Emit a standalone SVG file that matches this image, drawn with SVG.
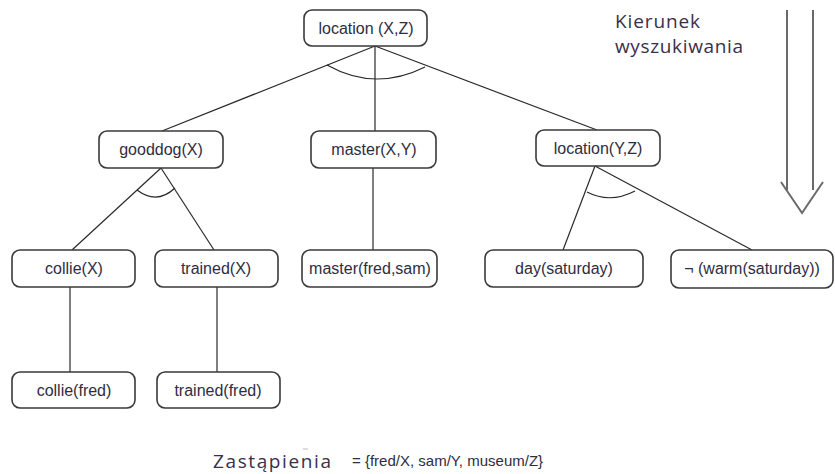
<svg xmlns="http://www.w3.org/2000/svg" width="835" height="474" viewBox="0 0 835 474">
<style>
.box{fill:#fff;stroke:#3a3a3a;stroke-width:1.6}
.lbl{font-family:"Liberation Sans",Arial,sans-serif;font-size:16px;fill:#2e2d3f;text-anchor:middle}
.edge{stroke:#2a2a2a;stroke-width:1.2;fill:none}
.side{font-family:"Open Sans","DejaVu Sans",sans-serif;font-size:19px;fill:#3a2f4a}
.arrow{stroke:#6a6a6a;stroke-width:2;fill:none}
</style>
<rect width="835" height="474" fill="#fff"/>
<g id="connectors">
<line class="edge" x1="375" y1="46" x2="162" y2="131"/>
<line class="edge" x1="375" y1="46" x2="375" y2="131"/>
<line class="edge" x1="375" y1="46" x2="597" y2="130"/>
<path class="edge" d="M327,65 Q375,92 425,67"/>
<line class="edge" x1="161" y1="168" x2="72" y2="250"/>
<line class="edge" x1="161" y1="168" x2="214" y2="250"/>
<path class="edge" d="M137,190 Q157,205 175,188"/>
<line class="edge" x1="373" y1="168" x2="373" y2="250"/>
<line class="edge" x1="595" y1="166" x2="563" y2="250"/>
<line class="edge" x1="595" y1="166" x2="752" y2="250"/>
<path class="edge" d="M587,192 Q610,204 635,191"/>
<line class="edge" x1="70" y1="287" x2="70" y2="372"/>
<line class="edge" x1="217" y1="287" x2="217" y2="372"/>
</g>
<g id="n-root"><rect class="box" x="304" y="10" width="123" height="36" rx="8"/><text class="lbl" x="366" y="34">location (X,Z)</text></g>
<g id="n-gooddog"><rect class="box" x="99" y="131" width="124" height="37" rx="8"/><text class="lbl" x="161" y="155">gooddog(X)</text></g>
<g id="n-master"><rect class="box" x="311" y="131" width="125" height="37" rx="8"/><text class="lbl" x="374" y="155">master(X,Y)</text></g>
<g id="n-locationYZ"><rect class="box" x="536" y="130" width="124" height="36" rx="8"/><text class="lbl" x="598" y="154">location(Y,Z)</text></g>
<g id="n-collieX"><rect class="box" x="12" y="250" width="123" height="37" rx="8"/><text class="lbl" x="74" y="274">collie(X)</text></g>
<g id="n-trainedX"><rect class="box" x="155" y="250" width="123" height="37" rx="8"/><text class="lbl" x="216" y="274">trained(X)</text></g>
<g id="n-masterfs"><rect class="box" x="302" y="250" width="135" height="37" rx="8"/><text class="lbl" x="370" y="274">master(fred,sam)</text></g>
<g id="n-day"><rect class="box" x="485" y="250" width="158" height="37" rx="8"/><text class="lbl" x="564" y="274">day(saturday)</text></g>
<g id="n-warm"><rect class="box" x="671" y="250" width="162" height="38" rx="8"/><text class="lbl" x="752" y="274">¬ (warm(saturday))</text></g>
<g id="n-colliefred"><rect class="box" x="12" y="372" width="123" height="36" rx="8"/><text class="lbl" x="74" y="396">collie(fred)</text></g>
<g id="n-trainedfred"><rect class="box" x="157" y="372" width="123" height="36" rx="8"/><text class="lbl" x="218" y="396">trained(fred)</text></g>
<g id="direction">
<line class="arrow" x1="787" y1="10" x2="787" y2="190"/>
<line class="arrow" x1="813" y1="10" x2="813" y2="190"/>
<polyline class="arrow" points="781,182 802,213 823,182"/>
<text class="side" x="615" y="28" textLength="85">Kierunek</text>
<text class="side" x="615" y="53" textLength="128">wyszukiwania</text>
</g>
<g id="substitutions">
<text class="side" font-size="18" x="213" y="468" textLength="118">Zastąpienia</text>
<line x1="303" y1="449" x2="308" y2="449" stroke="#bbb" stroke-width="1"/>
<text font-family="Liberation Sans, Arial, sans-serif" font-size="15" fill="#2e2d3f" x="352" y="466">= {fred/X, sam/Y, museum/Z}</text>
</g>
</svg>
